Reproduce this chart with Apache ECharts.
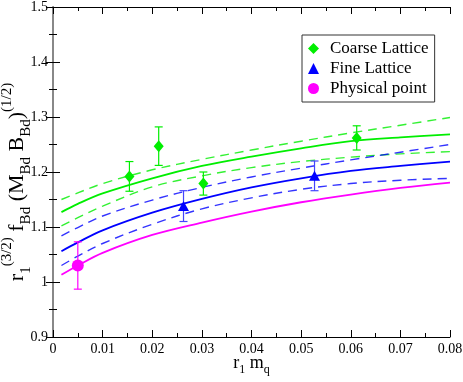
<!DOCTYPE html>
<html><head><meta charset="utf-8">
<script src="https://cdn.jsdelivr.net/npm/echarts@6/dist/echarts.min.js"></script>
<style>html,body{margin:0;padding:0;background:#fff}#c{width:463px;height:382px}</style>
</head><body><div id="c"></div>
<script>
// Fit curves
var curveX      = [0.0017, 0.005, 0.01, 0.02, 0.03, 0.04, 0.05, 0.06, 0.07, 0.08];
var coarseFit   = [1.127, 1.142, 1.161, 1.1885, 1.211, 1.228, 1.243, 1.256, 1.263, 1.2685];
var coarseUpper = [1.150, 1.162, 1.179, 1.204, 1.223, 1.240, 1.256, 1.271, 1.285, 1.299];
var coarseLower = [1.102, 1.117, 1.138, 1.173, 1.193, 1.208, 1.219, 1.227, 1.233, 1.237];
var fineFit     = [1.056, 1.072, 1.094, 1.126, 1.151, 1.172, 1.1885, 1.202, 1.211, 1.219];
var fineUpper   = [1.084, 1.099, 1.120, 1.149, 1.172, 1.191, 1.207, 1.222, 1.236, 1.250];
var fineLower   = [1.030, 1.047, 1.070, 1.105, 1.133, 1.153, 1.1685, 1.179, 1.185, 1.1885];
var physFit     = [1.013, 1.030, 1.053, 1.0855, 1.108, 1.128, 1.145, 1.159, 1.171, 1.1806];

// Data points
var coarseX   = [0.0154, 0.0213, 0.0303, 0.0612];
var coarseY   = [1.192, 1.247, 1.179, 1.262];
var coarseErr = [0.027, 0.035, 0.021, 0.022];
var fineX     = [0.0263, 0.0527];
var fineY     = [1.138, 1.193];
var fineErr   = [0.028, 0.027];
var physX     = [0.005];
var physY     = [1.030];
var physErr   = [0.043];

var xTicks = ['0','0.01','0.02','0.03','0.04','0.05','0.06','0.07','0.08'];
var yTicks = ['0.9','1','1.1','1.2','1.3','1.4','1.5'];

var GREEN = '#00ee00', BLUE = '#0000ff', MAG = '#ff00ff';
var FONT = "'Liberation Serif', 'Times New Roman', 'DejaVu Serif', serif";

function pairs(xs, ys){ return xs.map(function(x,i){ return [x, ys[i]]; }); }
function errData(xs, ys, es){ return xs.map(function(x,i){ return [x, ys[i]-es[i], ys[i]+es[i]]; }); }

function errSeries(xs, ys, es, color){
  return {
    type: 'custom', xAxisIndex: 0, yAxisIndex: 0, z: 3, silent: true,
    data: errData(xs, ys, es),
    renderItem: function(params, api){
      var x = api.value(0);
      var lo = api.coord([x, api.value(1)]);
      var hi = api.coord([x, api.value(2)]);
      var hw = 4;
      var st = {stroke: color, lineWidth: 1.2, fill: null};
      return {type: 'group', children: [
        {type: 'line', shape: {x1: lo[0], y1: lo[1], x2: hi[0], y2: hi[1]}, style: st},
        {type: 'line', shape: {x1: lo[0]-hw, y1: lo[1], x2: lo[0]+hw, y2: lo[1]}, style: st},
        {type: 'line', shape: {x1: hi[0]-hw, y1: hi[1], x2: hi[0]+hw, y2: hi[1]}, style: st}
      ]};
    }
  };
}

function curve(ys, color, dashed){
  return {
    type: 'line', xAxisIndex: 0, yAxisIndex: 0, z: 2, silent: true,
    data: pairs(curveX, ys), showSymbol: false, smooth: 0.35,
    lineStyle: {color: color, width: dashed ? 1.4 : 1.8, type: dashed ? [9, 6] : 'solid', opacity: dashed ? 0.8 : 1}
  };
}

var axisCommonX = {
  type: 'value', min: 0, max: 0.08, interval: 0.01,
  splitLine: {show: false},
  axisTick: {inside: true, length: 7, lineStyle: {color: '#000'}},
  minorTick: {show: true, splitNumber: 2, length: 4, lineStyle: {color: '#000'}}
};
var axisCommonY = {
  type: 'value', min: 0.9, max: 1.5, interval: 0.1,
  splitLine: {show: false},
  axisTick: {inside: true, length: 7, lineStyle: {color: '#000'}},
  minorTick: {show: true, splitNumber: 2, length: 4, lineStyle: {color: '#000'}}
};

var chart = echarts.init(document.getElementById('c'));
chart.setOption({
  animation: false,
  backgroundColor: '#fff',
  grid: {left: 53, right: 13, top: 7, bottom: 45, containLabel: false, outerBoundsMode: 'none'},
  legend: {
    orient: 'vertical', left: 302, top: 35,
    backgroundColor: '#fff', borderColor: '#333', borderWidth: 1,
    padding: [5, 6, 5, 6], itemGap: 3, itemWidth: 11, itemHeight: 11,
    textStyle: {fontFamily: FONT, fontSize: 17, color: '#000', padding: [0, 0, 0, 6]},
    data: ['Coarse Lattice', 'Fine Lattice', 'Physical point']
  },
  xAxis: [
    Object.assign({}, axisCommonX, {
      position: 'bottom',
      axisLine: {lineStyle: {color: '#000', width: 1}},
      axisLabel: {fontFamily: FONT, fontSize: 14, color: '#000', margin: 5,
        formatter: function(v){ return xTicks[Math.round(v/0.01)]; }},
      name: '{m|r}{sb|1}{m| m}{sb|q}', nameLocation: 'middle', nameGap: 13, nameMoveOverlap: false,
      nameTextStyle: {rich: {
        m: {fontFamily: FONT, fontSize: 18, color: '#000', lineHeight: 26, verticalAlign: 'middle'},
        sb: {fontFamily: FONT, fontSize: 12, color: '#000', lineHeight: 18, verticalAlign: 'bottom'}
      }}
    }),
    Object.assign({}, axisCommonX, {
      position: 'top', axisLabel: {show: false},
      axisLine: {lineStyle: {color: '#000', width: 1}}
    })
  ],
  yAxis: [
    Object.assign({}, axisCommonY, {
      position: 'left',
      axisLine: {lineStyle: {color: '#000', width: 1}},
      axisLabel: {fontFamily: FONT, fontSize: 14, color: '#000', margin: 5,
        formatter: function(v){ return yTicks[Math.round((v-0.9)/0.1)]; }},
      name: '{m|r}{sb|1}{sp|(3/2)}{m| f}{sb|Bd}{m| (M}{sb|Bd}{m| B}{sb|Bd}{m|)}{sp|(1/2)}',
      nameLocation: 'middle', nameGap: 19, nameRotate: 90, nameMoveOverlap: false,
      nameTextStyle: {padding: [0, 20, 0, 0], rich: {
        m: {fontFamily: FONT, fontSize: 22, color: '#000', lineHeight: 34, verticalAlign: 'middle'},
        sb: {fontFamily: FONT, fontSize: 15, color: '#000', lineHeight: 23, verticalAlign: 'bottom'},
        sp: {fontFamily: FONT, fontSize: 15, color: '#000', lineHeight: 16, verticalAlign: 'top'}
      }}
    }),
    Object.assign({}, axisCommonY, {
      position: 'right', axisLabel: {show: false},
      axisLine: {lineStyle: {color: '#888', width: 2}}
    })
  ],
  series: [
    curve(coarseUpper, GREEN, true),
    curve(coarseLower, GREEN, true),
    curve(coarseFit, GREEN, false),
    curve(fineUpper, BLUE, true),
    curve(fineLower, BLUE, true),
    curve(fineFit, BLUE, false),
    curve(physFit, MAG, false),
    errSeries(coarseX, coarseY, coarseErr, GREEN),
    errSeries(fineX, fineY, fineErr, '#4444ff'),
    errSeries(physX, physY, physErr, MAG),
    {name: 'Coarse Lattice', type: 'scatter', z: 4, symbol: 'diamond', symbolSize: [10, 12],
     itemStyle: {color: GREEN, opacity: 1}, data: pairs(coarseX, coarseY)},
    {name: 'Fine Lattice', type: 'scatter', z: 4, symbol: 'triangle', symbolSize: [11, 10],
     itemStyle: {color: BLUE, opacity: 1}, data: pairs(fineX, fineY)},
    {name: 'Physical point', type: 'scatter', z: 4, symbol: 'circle', symbolSize: 12,
     itemStyle: {color: MAG, opacity: 1}, data: pairs(physX, physY)}
  ]
});
</script>
</body></html>
